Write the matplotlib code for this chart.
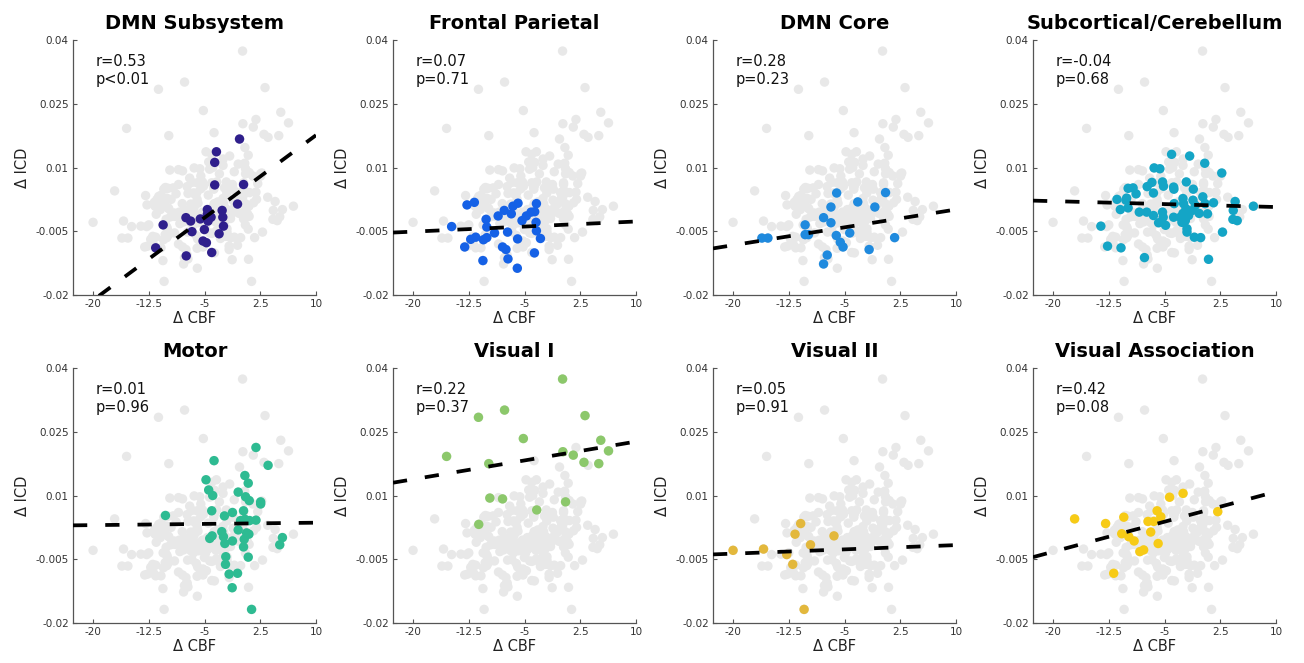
import matplotlib
matplotlib.use("Agg")
import matplotlib.pyplot as plt
import numpy as np

plt.rcParams['font.family'] = ['DejaVu Sans']
plt.rcParams['axes.unicode_minus'] = False

# ---------------- data ----------------
titles = ["DMN Subsystem", "Frontal Parietal", "DMN Core", "Subcortical/Cerebellum",
          "Motor", "Visual I", "Visual II", "Visual Association"]
r_text = ["r=0.53", "r=0.07", "r=0.28", "r=-0.04", "r=0.01", "r=0.22", "r=0.05", "r=0.42"]
p_text = ["p<0.01", "p=0.71", "p=0.23", "p=0.68", "p=0.96", "p=0.37", "p=0.91", "p=0.08"]
colors = ["#2f1f8c", "#1561e6", "#1f8ade", "#14a5c6", "#2ebb92", "#8cc86b", "#e3b83c", "#f7cb16"]

dmn_sub_x = [-0.29, -3.4, -3.63, -3.63, 0.25, -0.56, -4.62, -2.63, -5.57, -4.62, -4.53, -4.12, -2.54,
             -2.45, -5.02, -6.69, -7.5, -6.87, -10.57, -11.57, -7.46, -4.03, -3.04, -5.2, -4.75]
dmn_sub_y = [0.0167, 0.0137, 0.0112, 0.0059, 0.0060, 0.0014, 0.0001, -0.0001, -0.0021, -0.0010, -0.0026,
             -0.0017, -0.0017, -0.0038, -0.0046, -0.0051, -0.0018, -0.0026, -0.0035, -0.0089, -0.0108,
             -0.0100, -0.0056, -0.0073, -0.0077]

fp_x = [-12.74, -11.75, -14.81, -13.05, -12.24, -11.57, -10.53, -10.08, -10.17, -10.08, -10.6, -9.04,
        -8.55, -7.73, -6.78, -6.56, -5.88, -7.28, -7.96, -7.5, -7.23, -5.97, -5.93, -5.34, -4.75, -4.12,
        -3.63, -3.4, -3.45, -3.4, -2.86, -3.67]
fp_y = [0.0012, 0.0018, -0.0039, -0.0087, -0.0069, -0.0064, -0.0070, -0.0065, -0.0022, -0.0040, -0.0119,
        -0.0054, -0.0014, -0.0001, -0.0009, 0.0009, 0.0016, -0.0052, -0.0087, -0.0093, -0.0115, -0.0137,
        -0.0068, -0.0025, -0.0014, -0.0005, -0.0004, 0.0015, -0.0029, -0.0049, -0.0067, -0.0101]

dmn_core_x = [-16.12, -15.31, -10.3, -10.3, -9.85, -7.82, -6.83, -6.83, -6.06, -6.11, -5.57, -5.2, -4.3,
              -3.22, -0.92, 0.52, -1.69, 1.74, -7.33, -7.82]
dmn_core_y = [-0.0066, -0.0066, -0.0035, -0.0058, -0.0058, -0.0018, 0.0007, -0.0030, 0.0040, -0.0060,
              -0.0076, -0.0087, -0.0054, 0.0019, 0.0007, 0.0041, -0.0093, -0.0065, -0.0106, -0.0127]

subcort_x = [-4.05, -1.62, 0.41, -6.4, -5.63, 2.7, -9.23, -6.7, -5.27, -3.78, -3.74, -2.07, -1.13, -9.9,
             -7.34, -8.83, -6.49, -5.14, -11.4, -10.1, -10.2, -10.95, -9.9, -8.4, -7.4, -6.49, -5.27,
             -5.18, -5.8, -4.86, -3.78, -3.7, -2.52, -2.43, -2.12, -2.52, -2.88, -2.66, -2.2, -1.76,
             -1.26, -0.86, -0.34, -1.17, 0.15, 0.78, 0.46, 1.59, -1.98, -1.98, -0.99, -0.14, 0.92, 2.8,
             4.25, 4.2, 4.78, 4.5, 6.96, -13.57, -12.67, -10.86, -7.7]
subcort_y = [0.0131, 0.0127, 0.0110, 0.0099, 0.0097, 0.0087, 0.0052, 0.0065, 0.0066, 0.0054, 0.0049,
             0.0066, 0.0049, 0.0051, 0.0055, 0.0038, 0.0040, 0.0056, 0.0025, 0.0028, 0.0023, 0.0001,
             0.0005, -0.0005, -0.0005, -0.0013, -0.0005, -0.0017, -0.0030, -0.0036, -0.0017, 0.0015,
             0.0027, 0.0015, 0.0003, -0.0008, -0.0017, -0.0029, -0.0025, -0.0013, -0.0001, 0.0011,
             -0.0008, 0.0023, 0.0031, -0.0009, 0.0015, 0.0017, -0.0052, -0.0044, -0.0064, -0.0065,
             -0.0116, -0.0052, -0.0001, -0.0022, -0.0025, 0.0020, 0.0009, -0.0038, -0.0085, -0.0089,
             -0.0112]

motor_x = [1.92, 3.55, -3.72, -4.8, -4.44, -3.9, 0.43, 0.88, -0.47, 0.52, 1.02, 2.55, 2.55, -4.03, -2.32,
           -1.24, 0.25, -10.26, 1.92, 0.43, -0.16, 1.06, -0.47, 0.66, 0.97, -3.98, -4.3, -2.68, -2.45,
           -2.27, -1.24, 0.34, 0.25, -2.14, -2.18, -1.69, -0.56, -1.28, 0.88, 1.33, 5.48, 5.12]
motor_y = [0.0213, 0.0171, 0.0182, 0.0137, 0.0113, 0.0100, 0.0147, 0.0129, 0.0108, 0.0097, 0.0088,
           0.0085, 0.0080, 0.0064, 0.0052, 0.0060, 0.0064, 0.0053, 0.0042, 0.0044, 0.0041, 0.0041,
           0.0019, 0.0012, 0.0009, 0.0005, -0.0001, 0.0015, 0.0003, -0.0013, -0.0007, -0.0003, -0.0021,
           -0.0044, -0.0062, -0.0085, -0.0083, -0.0117, -0.0045, -0.0168, 0.0001, -0.0016]

vis1_x = [0.12, -7.69, -11.2, 3.14, -5.16, 5.26, 6.3, -15.49, 1.56, 0.16, 3.0, 4.99, -9.81, -9.67, -7.96,
          0.52, -3.36, -11.16]
vis1_y = [0.0374, 0.0301, 0.0284, 0.0288, 0.0234, 0.0230, 0.0205, 0.0192, 0.0195, 0.0203, 0.0178,
          0.0175, 0.0175, 0.0094, 0.0092, 0.0085, 0.0066, 0.0032]

vis2_x = [-20.0, -15.9, -10.9, -11.66, -9.58, -6.42, -12.78, -11.97, -10.44]
vis2_y = [-0.0029, -0.0026, 0.0034, 0.0009, -0.0016, 0.0005, -0.0039, -0.0062, -0.0168]

visassoc_x = [-17.1, -12.93, -10.48, -10.76, -9.81, -9.09, -8.32, -7.81, -7.22, -6.45, -6.86, -6.0, -5.5,
              -5.86, -4.32, -2.51, 2.16, -11.84]
visassoc_y = [0.0045, 0.0034, 0.0049, 0.0010, 0.0003, -0.0007, -0.0032, -0.0028, 0.0039, 0.0039, 0.0014,
              0.0064, 0.0050, -0.0013, 0.0096, 0.0105, 0.0062, -0.0083]

# regions not belonging to the eight subsystems (grey only)
other_x = [-8.5, -7.0, -5.5, -3.0, -1.0, 1.5, -9.5, -8.0, -6.0, -4.5, -2.0, 0.0, 2.0, 3.5, -11.5, -9.0,
           -7.0, -3.0, -1.5, 1.0, -12.5, -10.0, -6.5, -4.0, -1.5, -8.5, -6.0, -2.5, -8.5, 0.5]
other_y = [0.0060, 0.0075, 0.0080, 0.0085, 0.0090, 0.0080, 0.0025, 0.0015, 0.0025, 0.0035, 0.0040, 0.0030,
           0.0025, 0.0030, -0.0010, -0.0015, -0.0005, -0.0010, -0.0020, -0.0015, -0.0035, -0.0045,
           -0.0035, -0.0055, -0.0065, -0.0080, -0.0090, 0.0120, 0.0095, -0.0035]

fit_slope = [0.001294, 0.0000795, 0.00028, -0.000046, 0.000019, 0.000296, 0.000067, 0.000471]
fit_intercept = [0.00466, -0.0035, -0.00268, 0.00116, 0.00341, 0.01973, -0.00234, 0.00619]

group_x = [dmn_sub_x, fp_x, dmn_core_x, subcort_x, motor_x, vis1_x, vis2_x, visassoc_x]
group_y = [dmn_sub_y, fp_y, dmn_core_y, subcort_y, motor_y, vis1_y, vis2_y, visassoc_y]

x_ticks = [-20, -12.5, -5, 2.5, 10]
x_ticklabels = ["-20", "-12.5", "-5", "2.5", "10"]
y_ticks = [-0.02, -0.005, 0.01, 0.025, 0.04]
y_ticklabels = ["-0.02", "-0.005", "0.01", "0.025", "0.04"]

# ---------------- figure ----------------
W, H = 1304, 663
fig = plt.figure(figsize=(W / 100, H / 100), dpi=100)

all_x = np.concatenate([np.array(g) for g in group_x] + [np.array(other_x)])
all_y = np.concatenate([np.array(g) for g in group_y] + [np.array(other_y)])

lefts = [73, 393, 713, 1033]
tops = [40, 368]
aw, ah = 243, 255
spine_col = "#555555"
xlim = (-22.7, 10)
ylim = (-0.02, 0.04)

for i in range(8):
    row, col = divmod(i, 4)
    ax = fig.add_axes([lefts[col] / W, 1 - (tops[row] + ah) / H, aw / W, ah / H])
    ax.scatter(all_x, all_y, s=46, color="#e8e8e8", edgecolors="none", zorder=1)
    ax.scatter(group_x[i], group_y[i], s=46, color=colors[i], edgecolors="none", zorder=2)
    xx = np.array(xlim)
    ax.plot(xx, fit_intercept[i] + fit_slope[i] * xx, color="black", lw=2.7,
            dashes=(3.8, 4.8), zorder=3, dash_capstyle="butt")
    ax.set_xlim(*xlim)
    ax.set_ylim(*ylim)
    ax.set_xticks(x_ticks)
    ax.set_xticklabels(x_ticklabels)
    ax.set_yticks(y_ticks)
    ax.set_yticklabels(y_ticklabels)
    ax.tick_params(direction="in", length=3, width=0.8, colors=spine_col, labelsize=7.5,
                   labelcolor="#333333", pad=3)
    for s in ["top", "right"]:
        ax.spines[s].set_visible(False)
    for s in ["left", "bottom"]:
        ax.spines[s].set_color(spine_col)
        ax.spines[s].set_linewidth(0.9)
    ax.set_xlabel("Δ CBF", fontsize=10.5, color="#222222", labelpad=1)
    ax.set_ylabel("Δ ICD", fontsize=10.5, color="#222222", labelpad=4)
    ax.set_title(titles[i], fontsize=14, fontweight="bold", pad=8)
    ax.text(0.095, 0.945, r_text[i] + "\n" + p_text[i], transform=ax.transAxes, fontsize=10.5,
            va="top", ha="left", color="#111111", linespacing=1.25)

fig.savefig("out.png", dpi=100)
